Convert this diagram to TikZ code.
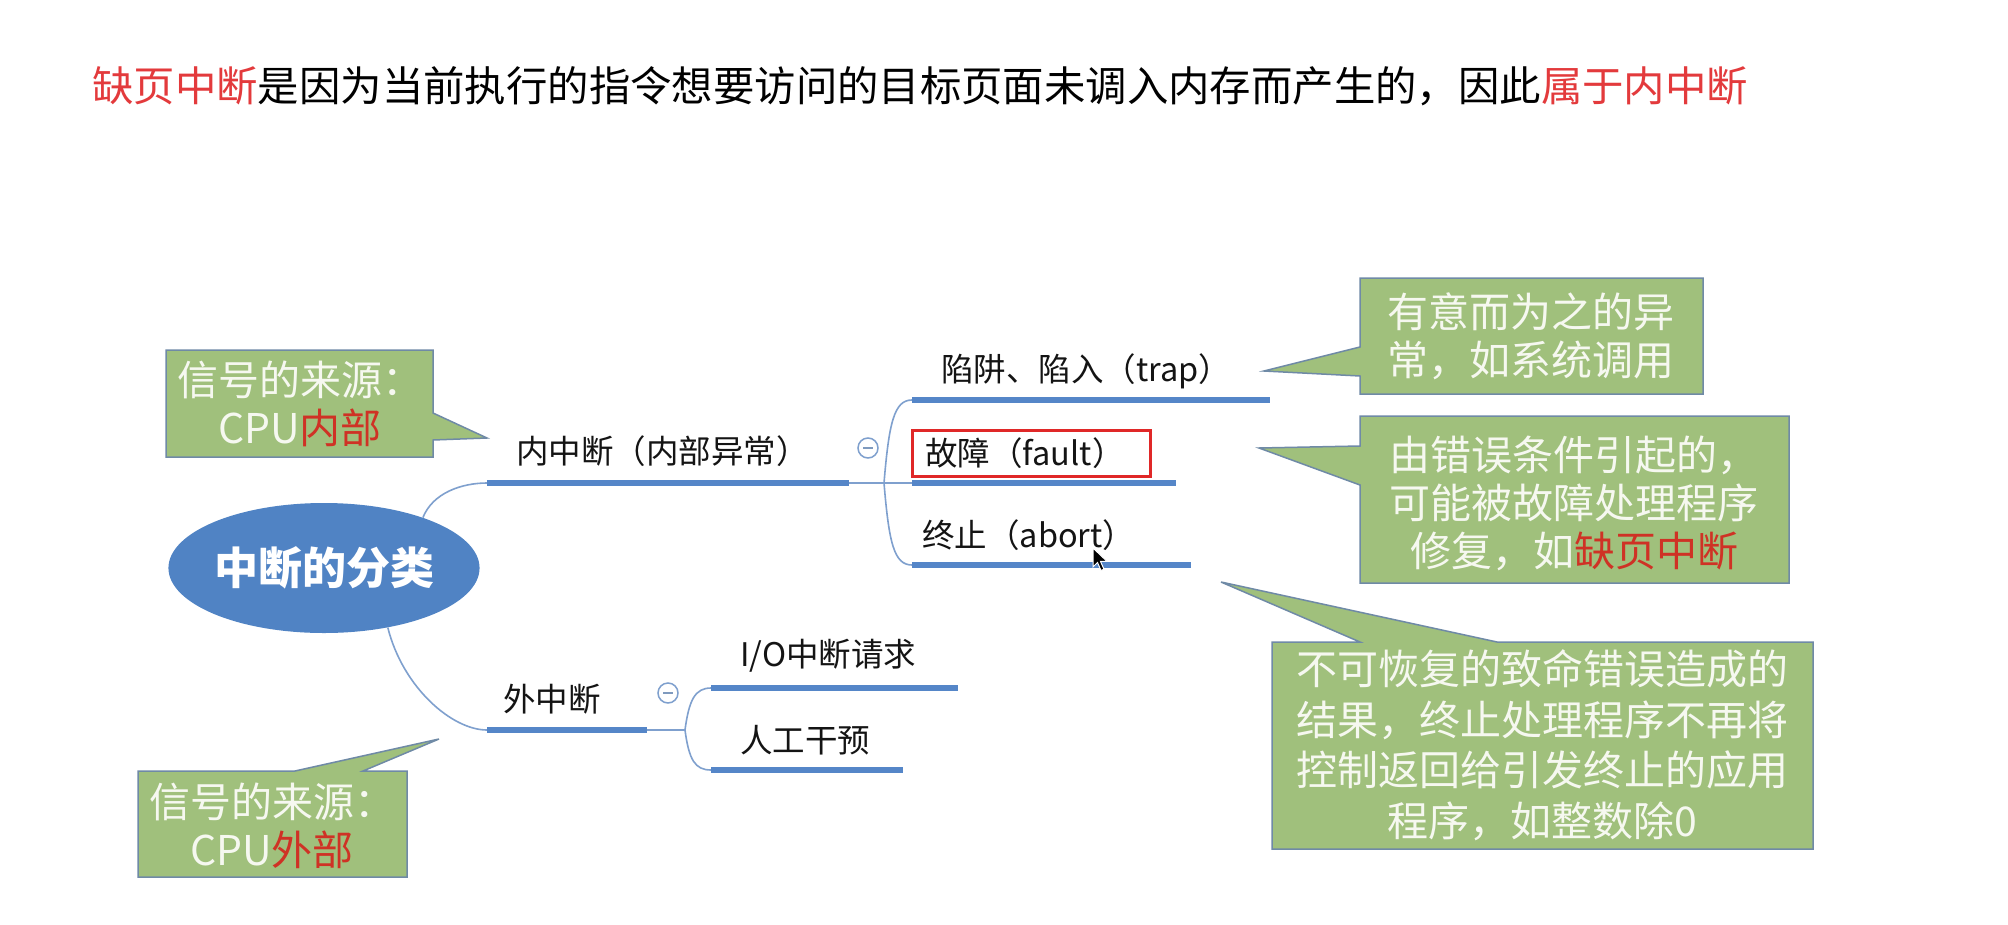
\documentclass[tikz,border=0pt]{standalone}
\usepackage{fontspec}
\setmainfont{Noto Sans CJK SC}
\usetikzlibrary{calc,shapes.geometric}
\definecolor{boxgreen}{HTML}{A0C07C}
\definecolor{boxline}{HTML}{6F8AA6}
\definecolor{mapblue}{HTML}{5586C8}
\definecolor{connblue}{HTML}{7FA0CE}
\definecolor{rootblue}{HTML}{5083C4}
\definecolor{hired}{HTML}{E33A3C}
\definecolor{boxred}{HTML}{CF3225}
\definecolor{notewhite}{HTML}{F6F8F0}
\definecolor{markred}{HTML}{E02828}
\begin{document}
\begin{tikzpicture}[x=1pt,y=-1pt,
  notetext/.style={align=center, text=notewhite, font=\fontsize{41}{48}\selectfont, inner sep=0},
  calloutbox/.style={fill=boxgreen, draw=boxline, line width=1.5pt, line join=miter},
  branchtext/.style={anchor=west, inner sep=0, font=\fontsize{32.5}{38}\selectfont, text=black!92},
  uline/.style={draw=mapblue, line width=5.5pt},
  conn/.style={draw=connblue, line width=1.6pt},
  fold/.style={circle, draw=connblue, line width=1.5pt, minimum size=20pt, inner sep=0}
]
\useasboundingbox[fill=white] (0,0) rectangle (2008,924);

% title
\node[anchor=west, inner sep=0, font=\fontsize{41.4}{48}\selectfont] (title) at (92,86)
  {\textcolor{hired}{缺页中断}是因为当前执行的指令想要访问的目标页面未调入内存而产生的，因此\textcolor{hired}{属于内中断}};

% root
\node[ellipse, fill=rootblue, minimum width=294pt, minimum height=130pt, inner sep=0,
  text=white, font=\fontsize{44}{50}\selectfont\bfseries] (root) at (324,568) {中断的分类};

% underline end points
\coordinate (nL) at (487,483); \coordinate (nR) at (849,483); \coordinate (nJ) at (884,483);
\coordinate (tL) at (912,400); \coordinate (tR) at (1270,400);
\coordinate (fL) at (912,483); \coordinate (fR) at (1176,483);
\coordinate (aL) at (912,565); \coordinate (aR) at (1191,565);
\coordinate (wL) at (487,730); \coordinate (wR) at (647,730); \coordinate (wJ) at (685,730);
\coordinate (iL) at (711,688); \coordinate (iR) at (958,688);
\coordinate (mL) at (711,770); \coordinate (mR) at (903,770);

% connectors
\draw[conn] (root.27) .. controls +(10,-25) and +(-25,0) .. (nL);
\draw[conn] (root.-43) .. controls +(15,60) and +(-35,0) .. (wL);
\draw[conn] (nR) -- (nJ);
\draw[conn] (nJ) .. controls +(5,-60) and +(-18,0) .. (tL);
\draw[conn] (nJ) -- (fL);
\draw[conn] (nJ) .. controls +(5,60) and +(-18,0) .. (aL);
\draw[conn] (wR) -- (wJ);
\draw[conn] (wJ) .. controls +(4,-30) and +(-16,0) .. (iL);
\draw[conn] (wJ) .. controls +(4,30) and +(-16,0) .. (mL);

% underlines
\draw[uline] (nL) -- (nR);
\draw[uline] (tL) -- (tR);
\draw[uline] (fL) -- (fR);
\draw[uline] (aL) -- (aR);
\draw[uline] (wL) -- (wR);
\draw[uline] (iL) -- (iR);
\draw[uline] (mL) -- (mR);

% branch texts
\node[branchtext] (nT) at (516,451) {内中断（内部异常）};
\node[branchtext] (tT) at (941,371) {陷阱、陷入（trap）};
\node[branchtext] (fT) at (925,453) {故障（fault）};
\node[branchtext] (aT) at (922,535) {终止（abort）};
\node[branchtext] (wT) at (503,699) {外中断};
\node[branchtext] (iT) at (740,656) {I/O中断请求};
\node[branchtext] (mT) at (740,740) {人工干预};

% red mark round fault
\draw[markred, line width=3pt] (912,430) rectangle (1150,476);

% fold markers
\node[fold] (c1) at (868,448) {};
\draw[connblue!80!gray, line width=1.6pt] ($(c1.center)+(-5,0)$) -- ($(c1.center)+(5,0)$);
\node[fold] (c2) at (668,693) {};
\draw[connblue!80!gray, line width=1.6pt] ($(c2.center)+(-5,0)$) -- ($(c2.center)+(5,0)$);

% callouts
\path[calloutbox] (166,350) -- (433,350) -- (433,413) -- (487,438) -- (433,440) -- (433,457) -- (166,457) -- cycle;
\node[notetext] (nA) at (300,404) {信号的来源：\\CPU\textcolor{boxred}{内部}};

\path[calloutbox] (138,771) -- (295,771) -- (439,739) -- (363,771) -- (407,771) -- (407,877) -- (138,877) -- cycle;
\node[notetext] (nB) at (272,826) {信号的来源：\\CPU\textcolor{boxred}{外部}};

\path[calloutbox] (1360,278) -- (1703,278) -- (1703,394) -- (1360,394) -- (1360,376) -- (1264,371) -- (1360,347) -- cycle;
\node[notetext] (nC) at (1531,336) {有意而为之的异\\常，如系统调用};

\path[calloutbox] (1360,416) -- (1789,416) -- (1789,583) -- (1360,583) -- (1360,485) -- (1259,448) -- (1360,446) -- cycle;
\node[notetext] (nD) at (1574,503) {由错误条件引起的，\\可能被故障处理程序\\修复，如\textcolor{boxred}{缺页中断}};

\path[calloutbox] (1272,642) -- (1360,642) -- (1221,582) -- (1497,642) -- (1813,642) -- (1813,849) -- (1272,849) -- cycle;
\node[notetext, font=\fontsize{41}{50.5}\selectfont] (nE) at (1542,745)
  {不可恢复的致命错误造成的\\结果，终止处理程序不再将\\控制返回给引发终止的应用\\程序，如整数除0};

% mouse cursor
\path[fill=black, draw=white, line width=1pt, line join=miter]
  (1093,548) -- ++(0,19) -- ++(4.5,-4.5) -- ++(3.5,8) -- ++(3,-1.3) -- ++(-3.5,-7.8) -- ++(6.5,0) -- cycle;
\end{tikzpicture}
\end{document}
